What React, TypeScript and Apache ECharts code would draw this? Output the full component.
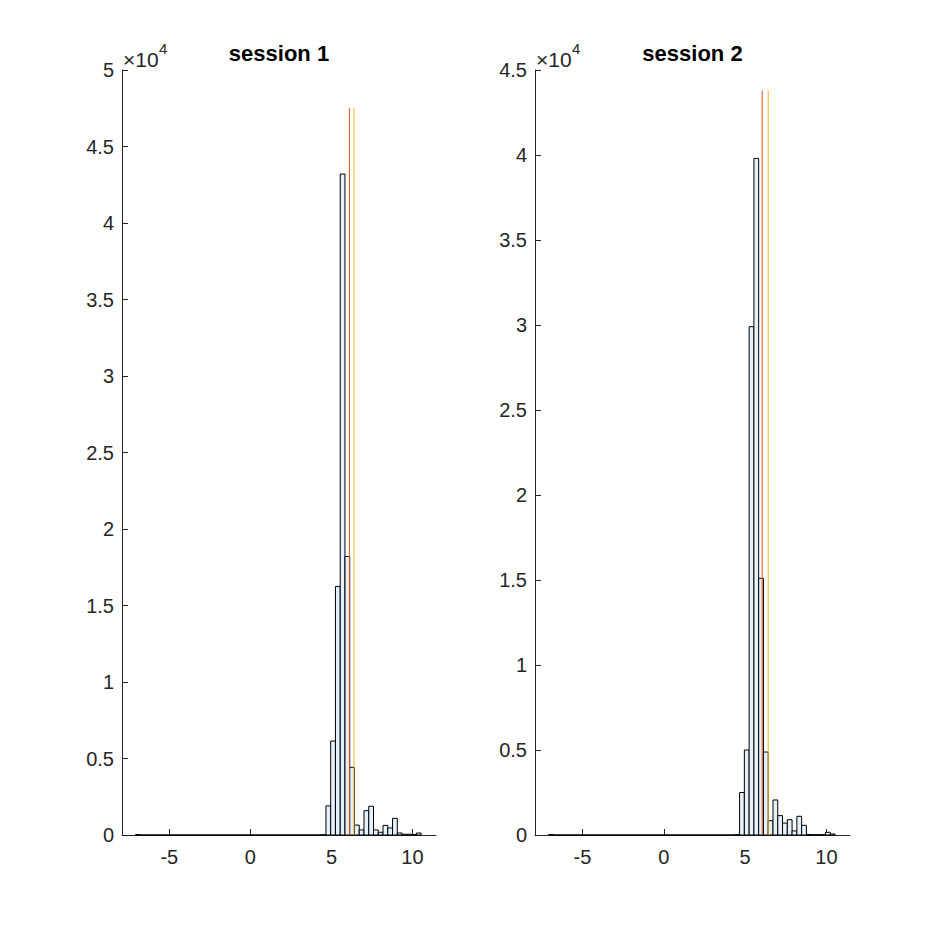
import { useEffect, useRef } from "react";
import * as echarts from "echarts";

// histogram bins shared by both sessions
const binStart = -7.08;
const binWidth = 0.2935;

const session1Counts = [
    30, 0, 0, 0, 0, 0, 0, 0, 0, 0,
    0, 0, 0, 0, 0, 0, 0, 0, 0, 0,
    0, 0, 0, 0, 0, 0, 0, 0, 0, 0,
    0, 0, 0, 0, 0, 0, 0, 0, 0, 20,
    1900, 6140, 16250, 43200, 18200, 4420, 650, 330, 1590, 1880,
    330, 180, 630, 460, 1090, 130, 50, 50, 30, 130,
];

const session2Counts = [
    30, 0, 0, 0, 0, 0, 0, 0, 0, 0,
    0, 0, 0, 0, 0, 0, 0, 0, 0, 0,
    0, 0, 0, 0, 0, 0, 0, 0, 0, 0,
    0, 0, 0, 0, 0, 0, 0, 0, 0, 20,
    2500, 5000, 29900, 39800, 15100, 4880, 840, 2060, 1140, 700,
    900, 240, 1100, 570, 30, 20, 20, 20, 160, 60,
];

// vertical reference lines: x position and top
const session1Lines = [
    { x: 6.11, top: 47500, color: "#D95319" },
    { x: 6.39, top: 47500, color: "#EDB120" },
];
const session2Lines = [
    { x: 6.05, top: 43800, color: "#D95319" },
    { x: 6.42, top: 43800, color: "#EDB120" },
];

const titles = ["session 1", "session 2"];
const yMax = [50000, 45000];
const xTicks = [-5, 0, 5, 10];

const FONT = "'Liberation Sans', Arial, Helvetica, sans-serif";
const INK = "#262626";

const toBins = (counts: number[]) =>
    counts.map((c, i) => [binStart + i * binWidth, binStart + (i + 1) * binWidth, c]);

export default function App() {
    const chartRef = useRef<HTMLDivElement | null>(null);

    useEffect(() => {
        if (!chartRef.current) return;
        document.body.style.margin = "0";
        const chart = echarts.init(chartRef.current, null, { renderer: "svg" });

        const grids = [
            { left: 122, top: 70, width: 314, height: 765 },
            { left: 535, top: 70, width: 315, height: 765 },
        ];

        const xAxis = grids.map((_, i) => ({
            type: "value",
            gridIndex: i,
            min: -7.92,
            max: 11.45,
            splitLine: { show: false },
            axisLine: { show: true, onZero: false, lineStyle: { color: INK, width: 1 } },
            axisTick: { show: true, inside: true, length: 6, customValues: xTicks, lineStyle: { color: INK } },
            axisLabel: { customValues: xTicks, color: INK, fontSize: 20, fontFamily: FONT, margin: 12 },
        }));

        const yAxis = grids.map((_, i) => ({
            type: "value",
            gridIndex: i,
            min: 0,
            max: yMax[i],
            interval: 5000,
            splitLine: { show: false },
            axisLine: { show: true, onZero: false, lineStyle: { color: INK, width: 1 } },
            axisTick: { show: true, inside: true, length: 6, lineStyle: { color: INK } },
            axisLabel: {
                color: INK,
                fontSize: 20,
                fontFamily: FONT,
                margin: 8,
                formatter: (v: number) => String(v / 10000),
            },
        }));

        const histSeries = [session1Counts, session2Counts].map((counts, i) => ({
            type: "custom",
            xAxisIndex: i,
            yAxisIndex: i,
            encode: { x: [0, 1], y: 2 },
            data: toBins(counts),
            renderItem: (_params: any, api: any) => {
                const p0 = api.coord([api.value(0), 0]);
                const p1 = api.coord([api.value(1), api.value(2)]);
                return {
                    type: "rect",
                    shape: { x: p0[0], y: p1[1], width: p1[0] - p0[0], height: p0[1] - p1[1] },
                    style: { fill: "#E5F1FA", stroke: "#000000", lineWidth: 1 },
                };
            },
        }));

        const lineSeries: any[] = [];
        [session1Lines, session2Lines].forEach((lines, i) => {
            lines.forEach((l) => {
                lineSeries.push({
                    type: "line",
                    xAxisIndex: i,
                    yAxisIndex: i,
                    symbol: "none",
                    lineStyle: { color: l.color, width: 1 },
                    data: [[l.x, 0], [l.x, l.top]],
                });
            });
        });

        const graphicEls: any[] = [];
        grids.forEach((g, i) => {
            graphicEls.push({
                type: "text",
                x: g.left + g.width / 2,
                y: 53,
                style: {
                    text: titles[i],
                    fill: "#000",
                    font: `bold 22px ${FONT}`,
                    textAlign: "center",
                    textVerticalAlign: "middle",
                },
            });
            graphicEls.push({
                type: "text",
                x: g.left + 1,
                y: 59,
                style: {
                    text: "×10",
                    fill: INK,
                    font: `21px ${FONT}`,
                    textAlign: "left",
                    textVerticalAlign: "middle",
                },
            });
            graphicEls.push({
                type: "text",
                x: g.left + 37,
                y: 48,
                style: {
                    text: "4",
                    fill: INK,
                    font: `15px ${FONT}`,
                    textAlign: "left",
                    textVerticalAlign: "middle",
                },
            });
        });

        chart.setOption({
            animation: false,
            backgroundColor: "#ffffff",
            grid: grids,
            xAxis,
            yAxis,
            series: [...histSeries, ...lineSeries],
            graphic: { elements: graphicEls },
        });

        return () => {
            chart.dispose();
        };
    }, []);

    return <div ref={chartRef} style={{ width: "938px", height: "938px" }} />;
}
